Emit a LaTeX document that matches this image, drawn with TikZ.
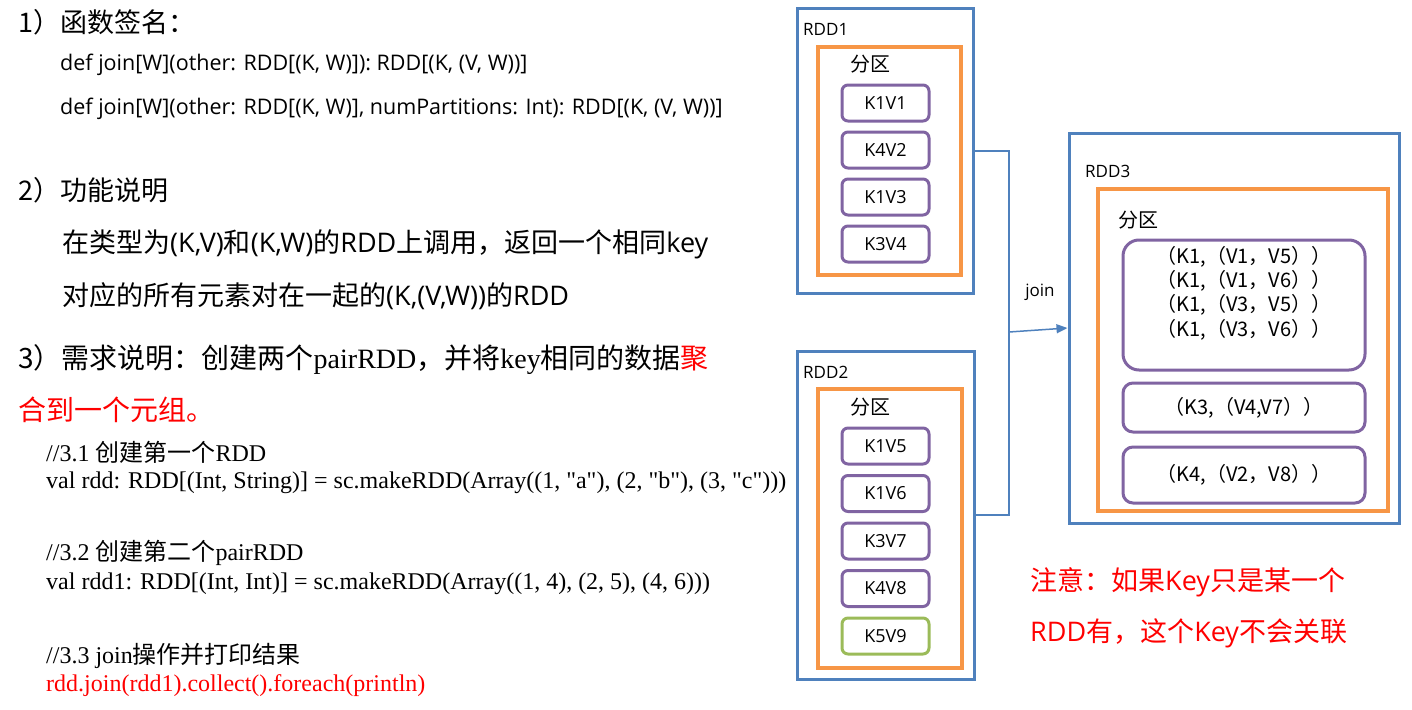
\documentclass[tikz,border=0pt]{standalone}
\usepackage{fontspec}
\setmainfont{Open Sans}
\newfontfamily\cjk{Noto Sans CJK SC}
\newfontfamily\codefont{Liberation Serif}
\usetikzlibrary{arrows.meta,positioning,calc}
\definecolor{rddblue}{RGB}{79,129,189}
\definecolor{partorange}{RGB}{247,150,70}
\definecolor{recpurple}{RGB}{128,100,162}
\definecolor{recgreen}{RGB}{155,187,89}

\begin{document}
\begin{tikzpicture}[x=1pt, y=-1pt,
  rdd/.style={draw=rddblue, line width=3pt, inner sep=0},
  part/.style={draw=partorange, line width=4pt, inner sep=0},
  rec/.style={draw=recpurple, line width=3pt, rounded corners=6pt, minimum width=87, minimum height=36, inner sep=0, font=\fontsize{18}{20}\selectfont},
  pair/.style={draw=recpurple, line width=3pt, rounded corners=10pt, minimum width=242, inner sep=0, align=center, font=\cjk\fontsize{20}{24.3}\selectfont},
  lbl/.style={inner sep=0, font=\fontsize{17}{20}\selectfont},
  zone/.style={inner sep=0, font=\cjk\fontsize{20}{22}\selectfont},
  head/.style={anchor=west, inner sep=0, font=\fontsize{27}{30}\selectfont},
  sig/.style={anchor=west, inner sep=0, font=\fontsize{21.5}{24}\selectfont},
  code/.style={anchor=west, inner sep=0, font=\codefont\fontsize{24}{26}\selectfont},
  note/.style={anchor=west, inner sep=0, text=red, font=\fontsize{27}{30}\selectfont},
  link/.style={draw=rddblue, line width=1.5pt},
  flow/.style={link, -{Triangle[length=11pt,width=9pt]}}]
\useasboundingbox (0,0) rectangle (1412,709);
% left column: signature, description, code
\node[head] (h1) at (18,22) {\cjk 1）函数签名：};
\node[sig] (sig1) at (60,65) {def join[W](other: RDD[(K, W)]): RDD[(K, (V, W))]};
\node[sig] (sig2) at (60,109) {def join[W](other: RDD[(K, W)], numPartitions: Int): RDD[(K, (V, W))]};
\node[head] (h2) at (18,190) {\cjk 2）功能说明};
\node[head] (desc1) at (62,244) {{\cjk 在类型为}(K,V){\cjk 和}(K,W){\cjk 的}RDD{\cjk 上调用，返回一个相同}key};
\node[head] (desc2) at (62,296) {{\cjk 对应的所有元素对在一起的}(K,(V,W)){\cjk 的}RDD};
\node[head, font=\fontsize{28}{30}\selectfont] (h3) at (18,360) {{\cjk 3）需求说明：创建两个}{\codefont pairRDD}{\cjk ，并将}{\codefont key}{\cjk 相同的数据}{\color{red}\cjk 聚}};
\node[head, text=red, font=\fontsize{28}{30}\selectfont] (h3b) at (18,410) {\cjk 合到一个元组。};
\node[code] (c1) at (46,452) {//3.1 {\cjk 创建第一个}RDD};
\node[code] (c2) at (46,483) {val rdd: RDD[(Int, String)] = sc.makeRDD(Array((1, "a"), (2, "b"), (3, "c")))};
\node[code] (c3) at (46,553) {//3.2 {\cjk 创建第二个}pairRDD};
\node[code] (c4) at (46,584) {val rdd1: RDD[(Int, Int)] = sc.makeRDD(Array((1, 4), (2, 5), (4, 6)))};
\node[code] (c5) at (46,656) {//3.3 join{\cjk 操作并打印结果}};
\node[code, text=red] (c6) at (46,686) {rdd.join(rdd1).collect().foreach(println)};
% RDD1
\node[rdd, minimum width=176, minimum height=284] (rdd1) at (885.5,151) {};
\node[part, minimum width=143, minimum height=228] (part1) at (889.5,161) {};
\node[lbl, anchor=west] (rdd1lbl) at (803,29) {RDD1};
\node[zone] (zone1) at (870,64) {分区};
\foreach \k [count=\i] in {K1V1,K4V2,K1V3,K3V4}
  \node[rec] (a\i) at (885.5,56+47*\i) {\k};
% RDD2
\node[rdd, minimum width=177, minimum height=328] (rdd2) at (885.5,515) {};
\node[part, minimum width=144, minimum height=279] (part2) at (890,528.5) {};
\node[lbl, anchor=west] (rdd2lbl) at (803,372) {RDD2};
\node[zone] (zone2) at (870,407) {分区};
\foreach \k [count=\i] in {K1V5,K1V6,K3V7,K4V8}
  \node[rec] (b\i) at (885.5,398.5+47.5*\i) {\k};
\node[rec, draw=recgreen] (b5) at (885.5,636) {K5V9};
% RDD3
\node[rdd, minimum width=330, minimum height=390] (rdd3) at (1234,328) {};
\node[part, minimum width=290, minimum height=322] (part3) at (1243,350) {};
\node[lbl, anchor=west] (rdd3lbl) at (1085,171) {RDD3};
\node[zone] (zone3) at (1138,220) {分区};
\node[pair, minimum height=130, rounded corners=16pt] (p1) at (1244,305) {};
\node[inner sep=0, align=center, font=\cjk\fontsize{20}{24.3}\selectfont] (p1txt) at (1244,293)
  {（K1,（V1，V5））\\（K1,（V1，V6））\\（K1,（V3，V5））\\（K1,（V3，V6））};
\node[pair, minimum height=49] (p2) at (1244,407.5) {（K3,（V4,V7））};
\node[pair, minimum height=56] (p3) at (1244,475) {（K4,（V2，V8））};
% join
\coordinate (jn) at (1009,332);
\draw[link] (rdd1.east) -| (jn) |- (rdd2.east);
\draw[flow] (jn) -- (rdd3.west);
\node[lbl] (join) at (1040,292) {join};
\node[note] (note1) at (1030,582) {{\cjk 注意：如果}Key{\cjk 只是某一个}};
\node[note] (note2) at (1030,633) {RDD{\cjk 有，这个}Key{\cjk 不会关联}};
\end{tikzpicture}
\end{document}
